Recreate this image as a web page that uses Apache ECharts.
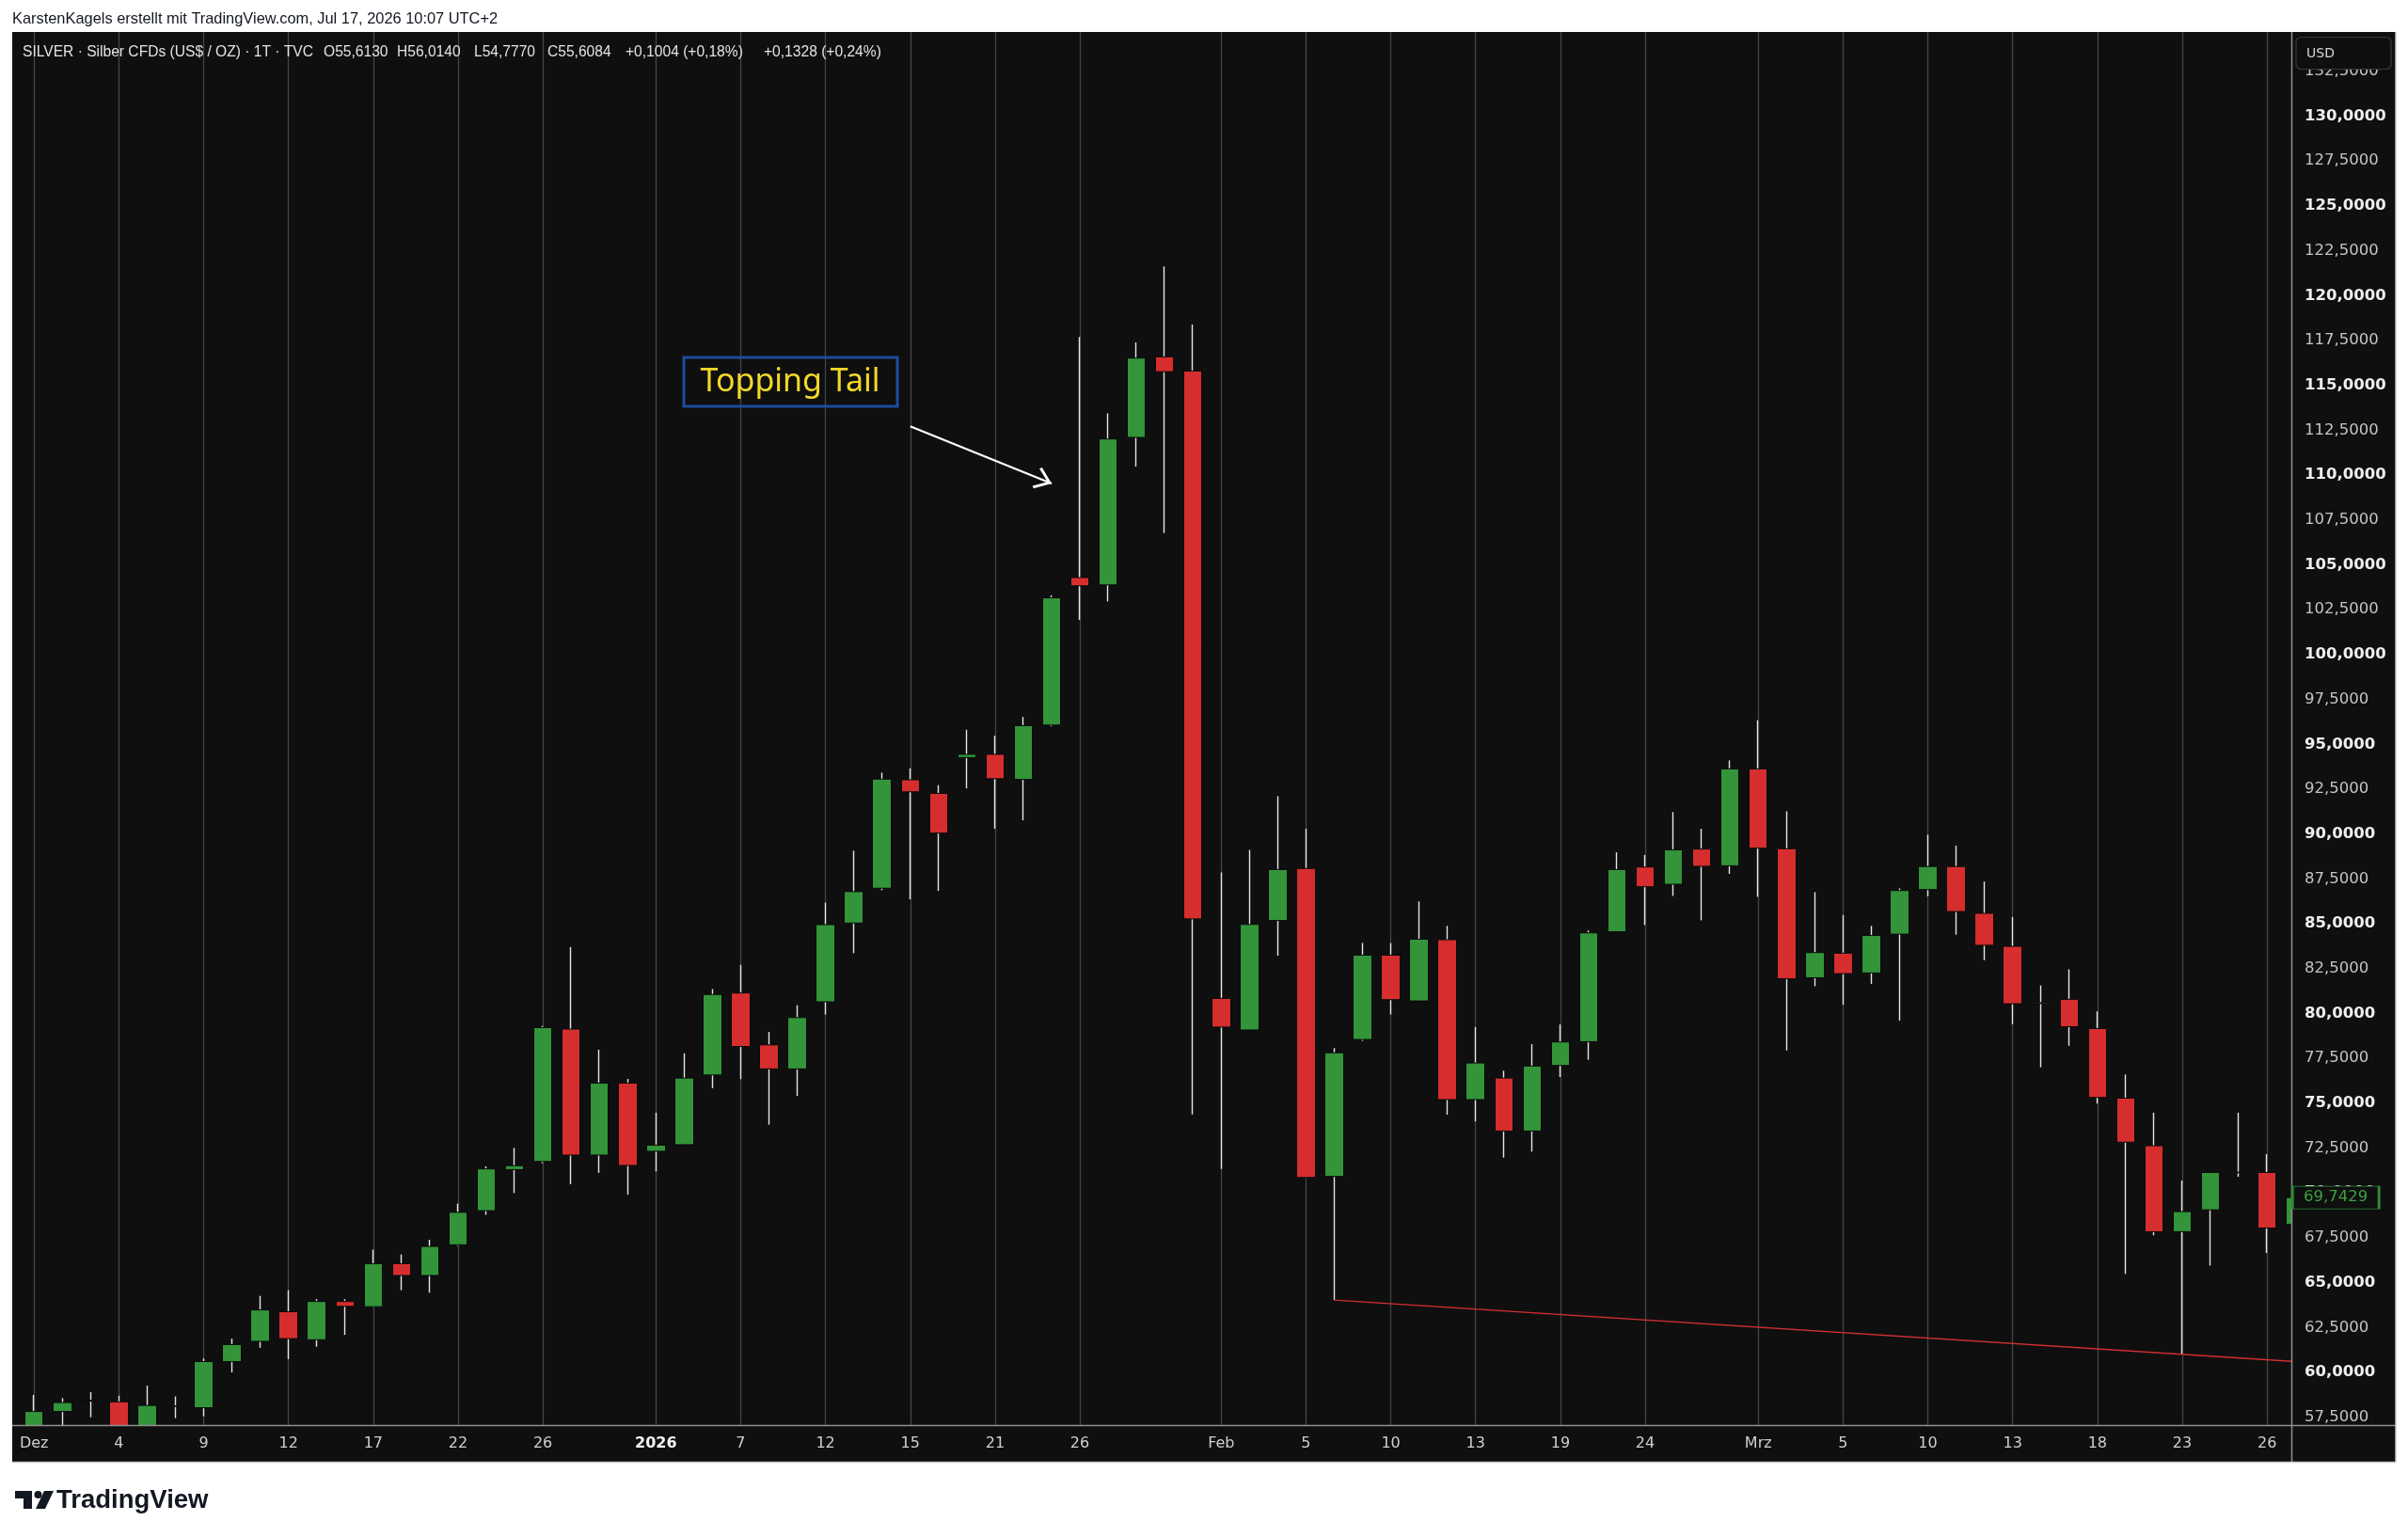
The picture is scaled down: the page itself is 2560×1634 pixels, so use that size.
<!DOCTYPE html>
<html>
<head>
<meta charset="utf-8">
<title>SILVER - Topping Tail</title>
<script src="https://cdn.jsdelivr.net/npm/echarts@6.0.0/dist/echarts.min.js"></script>
<style>
html,body{margin:0;padding:0;background:#fff;}
#chart{width:2560px;height:1634px;}
</style>
</head>
<body>
<div id="chart"></div>
<script>
// Tageskerzen Silber, 1. Dez 2025 - 27. Mrz 2026
var dates = [
	'2025-12-01','2025-12-02','2025-12-03','2025-12-04','2025-12-05','2025-12-08','2025-12-09','2025-12-10','2025-12-11','2025-12-12',
	'2025-12-15','2025-12-16','2025-12-17','2025-12-18','2025-12-19','2025-12-22','2025-12-23','2025-12-24','2025-12-26','2025-12-29',
	'2025-12-30','2025-12-31',
	'2026-01-02','2026-01-05','2026-01-06','2026-01-07','2026-01-08','2026-01-09','2026-01-12','2026-01-13','2026-01-14','2026-01-15',
	'2026-01-16','2026-01-20','2026-01-21','2026-01-22','2026-01-23','2026-01-26','2026-01-27','2026-01-28','2026-01-29','2026-01-30',
	'2026-02-02','2026-02-03','2026-02-04','2026-02-05','2026-02-06','2026-02-09','2026-02-10','2026-02-11','2026-02-12','2026-02-13',
	'2026-02-17','2026-02-18','2026-02-19','2026-02-20','2026-02-23','2026-02-24','2026-02-25','2026-02-26','2026-02-27',
	'2026-03-02','2026-03-03','2026-03-04','2026-03-05','2026-03-06','2026-03-09','2026-03-10','2026-03-11','2026-03-12','2026-03-13',
	'2026-03-16','2026-03-17','2026-03-18','2026-03-19','2026-03-20','2026-03-23','2026-03-24','2026-03-25','2026-03-26','2026-03-27'
];
var opens = [
	56.90,57.82,58.40,58.36,56.95,58.10,58.03,60.60,61.73,63.38,
	61.82,63.95,63.66,66.06,65.40,67.11,69.01,71.30,71.75,79.13,
	72.11,76.12,
	72.32,72.69,76.57,81.14,78.25,76.91,80.65,85.04,86.98,93.02,
	92.26,94.26,94.44,93.04,96.07,104.29,103.88,112.10,116.59,115.80,
	80.84,79.08,85.18,88.08,70.92,78.55,83.25,80.70,84.11,75.20,
	76.40,73.45,77.10,78.43,84.55,88.16,87.20,89.16,88.23,
	93.63,89.18,81.99,83.36,82.26,84.42,86.90,88.19,85.58,83.74,
	80.55,80.79,79.16,75.28,72.63,67.84,69.06,71.12,71.14,68.25
];
var closes = [
	57.82,58.32,58.45,56.95,58.16,58.13,60.60,61.55,63.48,61.88,
	63.95,63.68,66.06,65.40,67.02,68.92,71.34,71.52,79.21,72.11,
	76.12,71.53,
	72.66,76.40,81.06,78.16,76.91,79.77,84.95,86.79,93.06,92.35,
	90.05,94.44,93.08,96.04,103.16,103.83,112.01,116.52,115.76,85.27,
	79.24,84.96,88.02,70.86,77.81,83.25,80.77,84.14,75.20,77.24,
	73.45,77.07,78.41,84.49,88.02,87.06,89.12,88.20,93.63,
	89.21,81.93,83.39,82.22,84.35,86.85,88.19,85.68,83.80,80.54,
	80.60,79.26,75.32,72.83,67.84,68.96,71.14,71.16,68.04,69.7429
];
var lows = [
	56.70,56.95,57.50,56.80,56.80,57.45,57.55,60.00,61.37,60.74,
	61.43,62.09,63.63,64.58,64.44,67.05,68.78,69.99,71.66,70.49,
	71.12,69.90,
	71.20,72.69,75.84,76.34,73.80,75.41,79.94,83.36,86.87,86.36,
	86.83,92.54,90.29,90.76,96.00,101.93,102.96,110.47,106.77,74.38,
	71.34,79.08,83.22,70.86,64.03,78.47,79.95,80.70,74.36,73.98,
	71.97,72.30,76.46,77.42,84.55,84.93,86.55,85.19,87.78,
	86.50,77.94,81.52,80.48,81.65,79.60,86.53,84.39,82.97,79.41,
	77.00,78.20,74.98,65.49,67.64,61.01,65.95,70.90,66.65,67.90
];
var highs = [
	58.75,58.57,58.90,58.70,59.26,58.66,60.78,61.88,64.26,64.58,
	64.08,64.08,66.84,66.57,67.39,69.40,71.48,72.51,79.30,83.70,
	77.98,76.35,
	74.47,77.78,81.36,82.71,78.97,80.46,86.17,89.07,93.42,93.66,
	92.72,95.81,95.47,96.52,103.30,117.69,113.44,117.39,121.62,118.39,
	87.86,89.11,92.11,90.29,78.07,83.93,83.92,86.24,84.88,79.25,
	76.81,78.29,79.39,84.62,88.98,88.83,91.22,90.29,94.10,
	96.34,91.27,86.76,85.49,84.88,86.97,89.96,89.35,87.35,85.37,
	81.56,82.46,80.12,76.60,74.47,70.69,71.14,74.47,72.16,70.20
];
// Beschriftung der Zeitachse (Index in dates)
var tickIdx = [0,3,6,9,12,15,18,22,25,28,31,34,37,42,45,48,51,54,57,61,64,67,70,73,76,79];
var tickText = ['Dez','4','9','12','17','22','26','2026','7','12','15','21','26','Feb','5','10','13','19','24','Mrz','5','10','13','18','23','26'];
// Trendlinie unter den Tiefs und Pfeil auf den Topping Tail
var trendLine = [['2026-02-06', 64.03], ['2026-03-27', 60.60]];
var arrowLine = [['2026-01-15', 112.72], ['2026-01-23', 109.53]];
var lastPrice = 69.7429;

var bg = '#0f0f0f';

function fmtPrice(v){
	return v.toFixed(4).replace('.', ',');
}

var ohlc = [];
var bodies = [];
for(var i=0;i<dates.length;i++){
	ohlc.push([opens[i], closes[i], lows[i], highs[i]]);
	bodies.push([opens[i], closes[i], Math.min(opens[i], closes[i]), Math.max(opens[i], closes[i])]);
}

var gridLines = [];
for(var k=0;k<tickIdx.length;k++){
	gridLines.push({xAxis: dates[tickIdx[k]]});
}

var chevron = 'path://M50,0 L100,88 L91,100 L50,26 L9,100 L0,88 Z';

var myChart = echarts.init(document.getElementById('chart'));
var option = {
	backgroundColor: '#ffffff',
	animation: false,
	grid: {
		left: 21.2,
		right: 104.8,
		top: 34,
		bottom: 79.6,
		containLabel: false,
		outerBoundsMode: 'none'
	},
	xAxis: {
		type: 'category',
		data: dates,
		boundaryGap: true,
		offset: -39.4,
		z: 20,
		axisLine: {show: false},
		axisTick: {show: false},
		splitLine: {show: false},
		axisLabel: {
			margin: 12,
			interval: function(index){
				return tickIdx.indexOf(index) >= 0;
			},
			formatter: function(value, index){
				var n = tickIdx.indexOf(index);
				if(n < 0) return '';
				if(tickText[n] == '2026') return '{b|2026}';
				return tickText[n];
			},
			color: '#cfcfcf',
			fontSize: 16,
			fontFamily: 'DejaVu Sans',
			rich: {
				b: {fontWeight: 'bold', color: '#f2f2f2', fontSize: 16, fontFamily: 'DejaVu Sans'}
			}
		}
	},
	yAxis: {
		type: 'value',
		position: 'right',
		offset: -19.2,
		min: 55,
		max: 134.69,
		interval: 2.5,
		z: 20,
		axisLine: {show: false},
		axisTick: {show: false},
		splitLine: {show: false},
		axisLabel: {
			margin: 14,
			formatter: function(v){
				if(v < 57.4 || v > 132.6) return '';
				if(Math.abs(v / 2.5 - Math.round(v / 2.5)) > 1e-6) return '';
				var s = fmtPrice(v);
				if(Math.abs(v / 5 - Math.round(v / 5)) < 1e-6) return '{b|' + s + '}';
				return '{n|' + s + '}';
			},
			rich: {
				b: {fontWeight: 'bold', color: '#eeeeee', fontSize: 16.5, fontFamily: 'DejaVu Sans'},
				n: {color: '#c4c4c4', fontSize: 16.5, fontFamily: 'DejaVu Sans'}
			}
		}
	},
	series: [
		{
			// Dochte (weiss) + senkrechte Rasterlinien
			name: 'wick',
			type: 'candlestick',
			data: ohlc,
			barWidth: 1,
			z: 2,
			silent: true,
			itemStyle: {
				color: '#e6e6e6', color0: '#e6e6e6',
				borderColor: '#e6e6e6', borderColor0: '#e6e6e6', borderWidth: 1.4
			},
			markLine: {
				silent: true,
				z: 1,
				animation: false,
				symbol: ['none', 'none'],
				label: {show: false},
				lineStyle: {color: '#454545', width: 1.3, type: 'solid'},
				data: gridLines
			}
		},
		{
			// Kerzenkoerper
			name: 'body',
			type: 'candlestick',
			data: bodies,
			barWidth: 20,
			z: 3,
			silent: true,
			itemStyle: {
				color: '#33943a', color0: '#d62e2e',
				borderColor: '#0a0a0a', borderColor0: '#0a0a0a', borderWidth: 1
			},
			markLine: {
				silent: true,
				animation: false,
				label: {show: false},
				symbolOffset: [0, 9],
				data: [
					[
						{coord: trendLine[0], symbol: 'none', lineStyle: {color: '#d32f2f', width: 1.4, type: 'solid'}},
						{coord: trendLine[1], symbol: 'none', lineStyle: {color: '#d32f2f', width: 1.4, type: 'solid'}}
					],
					[
						{coord: arrowLine[0], symbol: 'none', lineStyle: {color: '#ffffff', width: 2.2, type: 'solid'}},
						{coord: arrowLine[1], symbol: chevron, symbolSize: [24, 18], symbolOffset: [0, 9], lineStyle: {color: '#ffffff', width: 2.2, type: 'solid'}}
					]
				]
			},
			markPoint: {
				silent: true,
				z: 40,
				animation: false,
				data: [{
					coord: [dates[dates.length - 1], lastPrice],
					symbol: 'rect',
					symbolSize: [92, 24],
					symbolOffset: [43, 0],
					itemStyle: {color: bg, borderColor: '#2e8b3a', borderWidth: 1.5},
					label: {
						show: true,
						position: 'inside',
						formatter: fmtPrice(lastPrice),
						color: '#3aa040',
						fontSize: 16.5,
						fontFamily: 'DejaVu Sans'
					}
				}]
			}
		}
	],
	graphic: [
		// Hintergrund des Chartfensters
		{type: 'rect', z: -10, silent: true, shape: {x: 13, y: 34, width: 2534, height: 1520}, style: {fill: bg}},
		// Achsenbereiche
		{type: 'rect', z: 10, silent: true, shape: {x: 13, y: 1516, width: 2423, height: 38}, style: {fill: bg}},
		{type: 'rect', z: 10, silent: true, shape: {x: 2437, y: 34, width: 110, height: 1520}, style: {fill: bg}},
		{type: 'line', z: 15, silent: true, shape: {x1: 13, y1: 1515.5, x2: 2547, y2: 1515.5}, style: {stroke: '#8f8f8f', lineWidth: 1.5}},
		{type: 'line', z: 15, silent: true, shape: {x1: 2436.5, y1: 34, x2: 2436.5, y2: 1554}, style: {stroke: '#8f8f8f', lineWidth: 1.5}},
		{type: 'line', z: 15, silent: true, shape: {x1: 13, y1: 1554.5, x2: 2547, y2: 1554.5}, style: {stroke: '#c8c8c8', lineWidth: 1.5}},
		{type: 'line', z: 15, silent: true, shape: {x1: 2547, y1: 34, x2: 2547, y2: 1554}, style: {stroke: '#c8c8c8', lineWidth: 1.5}},
		// USD-Feld
		{type: 'rect', z: 30, silent: true, shape: {x: 2441, y: 39.5, width: 101, height: 34, r: 5}, style: {fill: bg, stroke: '#3a3a3a', lineWidth: 1.2}},
		{type: 'text', z: 31, silent: true, x: 2452, y: 57, style: {text: 'USD', fill: '#d8d8d8', font: '14px "DejaVu Sans"', verticalAlign: 'middle'}},
		// Kopfzeilen
		{type: 'text', z: 30, silent: true, x: 13, y: 20, style: {text: 'KarstenKagels erstellt mit TradingView.com, Jul 17, 2026 10:07 UTC+2', fill: '#131722', font: '16.4px "Liberation Sans"', verticalAlign: 'middle'}},
		{type: 'text', z: 30, silent: true, x: 24, y: 56, style: {text: 'SILVER · Silber CFDs (US$ / OZ) · 1T · TVC', fill: '#e2e2e2', font: '15.6px "Liberation Sans"', verticalAlign: 'middle'}},
		{type: 'text', z: 30, silent: true, x: 344, y: 56, style: {text: 'O55,6130', fill: '#e2e2e2', font: '15.6px "Liberation Sans"', verticalAlign: 'middle'}},
		{type: 'text', z: 30, silent: true, x: 422, y: 56, style: {text: 'H56,0140', fill: '#e2e2e2', font: '15.6px "Liberation Sans"', verticalAlign: 'middle'}},
		{type: 'text', z: 30, silent: true, x: 504, y: 56, style: {text: 'L54,7770', fill: '#e2e2e2', font: '15.6px "Liberation Sans"', verticalAlign: 'middle'}},
		{type: 'text', z: 30, silent: true, x: 582, y: 56, style: {text: 'C55,6084', fill: '#e2e2e2', font: '15.6px "Liberation Sans"', verticalAlign: 'middle'}},
		{type: 'text', z: 30, silent: true, x: 665, y: 56, style: {text: '+0,1004 (+0,18%)', fill: '#e2e2e2', font: '15.6px "Liberation Sans"', verticalAlign: 'middle'}},
		{type: 'text', z: 30, silent: true, x: 812, y: 56, style: {text: '+0,1328 (+0,24%)', fill: '#e2e2e2', font: '15.6px "Liberation Sans"', verticalAlign: 'middle'}},
		// Annotation
		{type: 'rect', z: 30, silent: true, shape: {x: 727, y: 380, width: 227, height: 52}, style: {fill: 'none', stroke: '#1d4c9c', lineWidth: 3}},
		{type: 'text', z: 31, silent: true, x: 840, y: 406, style: {text: 'Topping Tail', fill: '#f2d829', font: '34px "Noto Sans"', align: 'center', verticalAlign: 'middle'}},
		// Logo
		{type: 'polygon', z: 30, silent: true, shape: {points: [[16,1585],[34,1585],[34,1604],[25,1604],[25,1593],[16,1593]]}, style: {fill: '#131722'}},
		{type: 'circle', z: 30, silent: true, shape: {cx: 40.5, cy: 1589, r: 4}, style: {fill: '#131722'}},
		{type: 'polygon', z: 30, silent: true, shape: {points: [[47,1585],[57,1585],[48,1604],[38,1604]]}, style: {fill: '#131722'}},
		{type: 'text', z: 30, silent: true, x: 60, y: 1595, style: {text: 'TradingView', fill: '#131722', font: 'bold 27.5px "Liberation Sans"', verticalAlign: 'middle'}}
	]
};
myChart.setOption(option);
</script>
</body>
</html>
